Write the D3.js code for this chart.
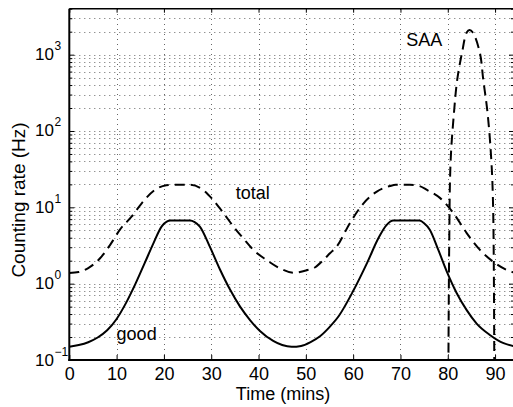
<!DOCTYPE html>
<html>
<head>
<meta charset="utf-8">
<script src="https://cdn.jsdelivr.net/npm/d3@7"></script>
<style>
  html, body { margin: 0; padding: 0; background: #fff; }
  svg { display: block; font-family: "Liberation Sans", Arial, Helvetica, sans-serif; }
</style>
</head>
<body>
<svg id="chart" width="513" height="407"></svg>
<script>
// ---- data ----
const goodTime  = [0, 2, 4, 6, 8, 10, 12, 14, 16, 17.8, 19.5, 20.6, 21.4, 25.5, 26.5, 27.6, 29.7, 31.9, 34, 36.1, 38.2, 40.3, 43.1, 45, 47, 49, 51, 53, 55, 57, 60, 63, 65.3, 67, 68.5, 74, 75, 76.2, 78, 79.8, 81.9, 84, 86.1, 88.9, 91.8, 94];
const goodRate  = [0.149, 0.157, 0.171, 0.197, 0.245, 0.345, 0.56, 1.0, 1.9, 3.4, 5.6, 6.5, 6.7, 6.7, 6.4, 5.6, 3.05, 1.51, 0.83, 0.5, 0.334, 0.24, 0.178, 0.157, 0.149, 0.153, 0.172, 0.205, 0.27, 0.38, 0.8, 1.9, 3.9, 5.8, 6.7, 6.7, 6.2, 5.1, 2.77, 1.44, 0.75, 0.45, 0.30, 0.213, 0.166, 0.152];

const totalTime = [0, 2, 4, 6.5, 8.6, 10.7, 13.2, 15.3, 18.1, 20.5, 21.3, 25.5, 28.3, 30.4, 32.6, 34.7, 36.8, 38.9, 41.7, 44.5, 47.4, 50.2, 52, 53.7, 55.1, 56.5, 59.3, 62.2, 65, 67.8, 69, 72, 74, 75.6, 78.4, 81.2, 84, 86.8, 89.6, 92.5, 94];
const totalRate = [1.38, 1.42, 1.6, 2.15, 3.2, 5.1, 7.6, 11.3, 16.9, 19.5, 19.7, 19.7, 16.9, 12.5, 8.4, 5.6, 3.9, 2.77, 2.04, 1.59, 1.39, 1.5, 1.64, 2.04, 2.5, 3.05, 6.2, 11.3, 16.1, 19.0, 19.7, 19.7, 19.0, 16.9, 13.2, 8.4, 4.6, 2.77, 1.94, 1.51, 1.4];

const saaTime   = [80, 80.3, 80.6, 81.3, 82, 83, 84, 84.6, 85.3, 86.8, 87.5, 88.4, 89.2, 89.6, 89.9];
const saaRate   = [0.001, 3, 40, 170, 470, 1050, 1950, 2100, 1950, 1050, 470, 175, 42, 9, 0.001];

const xTicks = [0, 10, 20, 30, 40, 50, 60, 70, 80, 90];
const yTickExps = [-1, 0, 1, 2, 3];

const labels = [
  {text: "total", t: 35.2, v: 13.0},
  {text: "good",  t: 10.0, v: 0.183},
  {text: "SAA",   t: 71.2, v: 1300}
];

// ---- layout ----
const svg = d3.select("#chart");
const x = d3.scaleLinear().domain([0, 94]).range([69.3, 514]);
const y = d3.scaleLog().domain([0.1, 4000]).range([360, 8.7]);
const X0 = x.range()[0], X1 = x.range()[1], Y0 = y.range()[0], Y1 = y.range()[1];

// minor values
const yMinor = [];
for (let e = -1; e <= 3; e++) for (let m = 2; m <= 9; m++) {
  const v = m * Math.pow(10, e);
  if (v <= 4000) yMinor.push(v);
}
const yMajor = yTickExps.map(e => Math.pow(10, e));

// ---- grid ----
const grid = svg.append("g").attr("stroke", "#666").attr("stroke-width", 1).attr("stroke-dasharray", "1,4").attr("fill", "none");
grid.selectAll("line.h").data(yMajor.concat(yMinor).filter(v => v > 0.1 && v < 4000)).join("line")
  .attr("x1", X0).attr("x2", X1)
  .attr("y1", d => Math.round(y(d)) + 0.5).attr("y2", d => Math.round(y(d)) + 0.5);
grid.selectAll("line.v").data(xTicks.filter(t => t > 0)).join("line")
  .attr("x1", d => Math.round(x(d)) + 0.5).attr("x2", d => Math.round(x(d)) + 0.5)
  .attr("y1", Y0).attr("y2", Y1);

// ---- data lines ----
svg.append("clipPath").attr("id", "clip").append("rect")
  .attr("x", X0).attr("y", Y1).attr("width", X1 - X0).attr("height", Y0 - Y1);
const plot = svg.append("g").attr("clip-path", "url(#clip)");

const line = d3.line().x(d => x(d[0])).y(d => y(d[1])).curve(d3.curveMonotoneX);

plot.append("path").datum(d3.zip(totalTime, totalRate))
  .attr("d", line).attr("fill", "none").attr("stroke", "#000")
  .attr("stroke-width", 2).attr("stroke-dasharray", "10,6");

plot.append("path").datum(d3.zip(saaTime, saaRate))
  .attr("d", d3.line().x(d => x(d[0])).y(d => y(d[1])).curve(d3.curveCatmullRom.alpha(0.5)))
  .attr("fill", "none").attr("stroke", "#000")
  .attr("stroke-width", 2).attr("stroke-dasharray", "10,6");

plot.append("path").datum(d3.zip(goodTime, goodRate))
  .attr("d", line).attr("fill", "none").attr("stroke", "#000")
  .attr("stroke-width", 2);

// ---- axes ----
const xAxisB = svg.append("g").attr("transform", `translate(0,${Y0})`)
  .call(d3.axisBottom(x).tickValues(xTicks).tickSize(-5).tickPadding(7).tickFormat(d3.format("d")));
xAxisB.select(".domain").remove();
xAxisB.selectAll("text").attr("font-size", 18).attr("font-family", null).attr("fill", "#000");
xAxisB.selectAll("line").attr("stroke", "#000");

const xAxisT = svg.append("g").attr("transform", `translate(0,${Y1})`)
  .call(d3.axisTop(x).tickValues(xTicks).tickSize(-4).tickFormat(""));
xAxisT.select(".domain").remove();

const yAxisL = svg.append("g").attr("transform", `translate(${X0},0)`)
  .call(d3.axisLeft(y).tickValues(yMajor).tickSize(-5).tickFormat(""));
yAxisL.select(".domain").remove();
const yAxisLm = svg.append("g").attr("transform", `translate(${X0},0)`)
  .call(d3.axisLeft(y).tickValues(yMinor).tickSize(-3).tickFormat(""));
yAxisLm.select(".domain").remove();
const yAxisR = svg.append("g").attr("transform", `translate(${X1},0)`)
  .call(d3.axisRight(y).tickValues(yMajor).tickSize(-5).tickFormat(""));
yAxisR.select(".domain").remove();
const yAxisRm = svg.append("g").attr("transform", `translate(${X1},0)`)
  .call(d3.axisRight(y).tickValues(yMinor).tickSize(-3).tickFormat(""));
yAxisRm.select(".domain").remove();
svg.selectAll(".tick line").attr("stroke", "#000").attr("stroke-width", 1);

// frame
svg.append("line").attr("x1", X0).attr("x2", X0).attr("y1", Y1).attr("y2", Y0 + 1).attr("stroke", "#000").attr("stroke-width", 2);
svg.append("line").attr("x1", X0 - 1).attr("x2", X1).attr("y1", Y0).attr("y2", Y0).attr("stroke", "#000").attr("stroke-width", 2.2);
svg.append("line").attr("x1", X0).attr("x2", X1).attr("y1", Y1).attr("y2", Y1).attr("stroke", "#000").attr("stroke-width", 1.5);

// y tick labels 10^n
const yl = svg.append("g").attr("fill", "#000");
yTickExps.forEach(e => {
  const yy = y(Math.pow(10, e));
  yl.append("text").attr("x", 54).attr("y", yy + 5.5).attr("text-anchor", "end")
    .attr("font-size", 17).text("10");
  yl.append("text").attr("x", 54.5).attr("y", yy - 4.5).attr("text-anchor", "start")
    .attr("font-size", 12).text(e < 0 ? "\u2212" + Math.abs(e) : String(e));
});

// axis titles
svg.append("text").attr("x", 283).attr("y", 400).attr("text-anchor", "middle")
  .attr("font-size", 18).text("Time (mins)");
svg.append("text").attr("transform", "translate(25,200) rotate(-90)").attr("text-anchor", "middle")
  .attr("font-size", 19).text("Counting rate (Hz)");

// annotations
svg.selectAll("text.lab").data(labels).join("text").attr("class", "lab")
  .attr("x", d => x(d.t)).attr("y", d => y(d.v))
  .attr("font-size", 18).text(d => d.text);
</script>
</body>
</html>
